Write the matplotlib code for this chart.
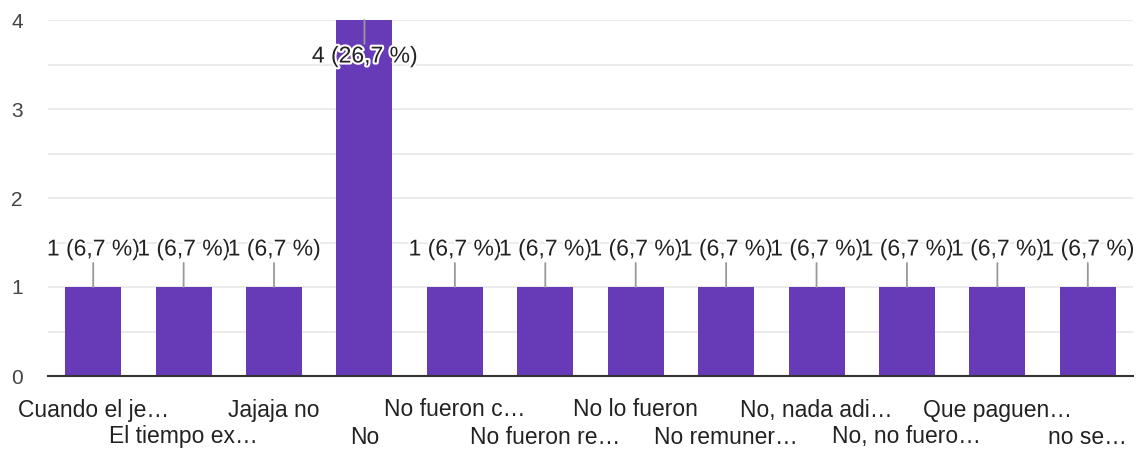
import matplotlib.pyplot as plt
import matplotlib.patheffects as pe

categories = ["Cuando el je…", "El tiempo ex…", "Jajaja no", "No",
              "No fueron c…", "No fueron re…", "No lo fueron", "No remuner…",
              "No, nada adi…", "No, no fuero…", "Que paguen…", "no se…"]
counts = [1, 1, 1, 4, 1, 1, 1, 1, 1, 1, 1, 1]
percents = ["6,7", "6,7", "6,7", "26,7", "6,7", "6,7", "6,7", "6,7",
            "6,7", "6,7", "6,7", "6,7"]

plt.rcParams['font.family'] = ['Liberation Sans', 'DejaVu Sans']

fig = plt.figure(figsize=(11.44, 4.51), dpi=100)
ax = fig.add_axes([48 / 1144, 75 / 451, 1085 / 1144, 356 / 451])

x = list(range(len(categories)))
ax.bar(x, counts, width=0.62, color="#673ab7", zorder=3)

ax.set_xlim(-0.5, len(categories) - 0.5)
ax.set_ylim(0, 4)
ax.set_yticks([0, 1, 2, 3, 4])
ax.set_yticks([0.5, 1.5, 2.5, 3.5], minor=True)
ax.grid(True, axis='y', which='both', color="#ebebeb", linewidth=1.5, zorder=0)
ax.tick_params(axis='y', which='both', length=0, pad=18)
ax.set_yticklabels(["0", "1", "2", "3", "4"], fontsize=15, color="#444444")

ax.set_xticks(x)
ax.set_xticklabels([])
ax.tick_params(axis='x', length=0)
for i, lab in enumerate(categories):
    dy = -34 if i % 2 == 0 else -61
    ax.annotate(lab, (i, 0), xytext=(0, dy), textcoords='offset pixels',
                ha='center', va='center', fontsize=16.5, color="#222222")

for s in ['top', 'right', 'left']:
    ax.spines[s].set_visible(False)
ax.spines['bottom'].set_color("#333333")
ax.spines['bottom'].set_linewidth(1.5)
ax.spines['bottom'].set_zorder(4)

halo = [pe.withStroke(linewidth=3, foreground='white')]
for i, (c, p) in enumerate(zip(counts, percents)):
    if c >= 4:
        off_line, off_text = -24, -36
    else:
        off_line, off_text = 24, 38
    ax.annotate('', xy=(i, c), xytext=(0, off_line), textcoords='offset pixels',
                arrowprops=dict(arrowstyle='-', color="#999999", lw=1.3,
                                shrinkA=0, shrinkB=0), zorder=4)
    ax.annotate(f"{c} ({p} %)", (i, c), xytext=(0, off_text), textcoords='offset pixels',
                ha='center', va='center', fontsize=16.5, color="#222222",
                path_effects=halo, zorder=5)

fig.savefig("out.png", dpi=100)
